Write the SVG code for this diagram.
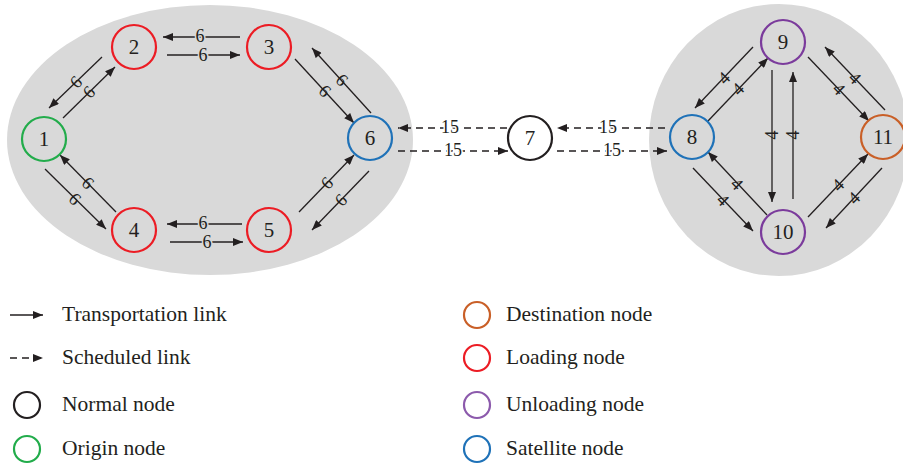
<svg xmlns="http://www.w3.org/2000/svg" width="903" height="466" viewBox="0 0 903 466">
<style>
.bg{fill:#d9d9d9;stroke:none}
.node{fill:none;stroke-width:2.2}
.nt{font-family:"Liberation Serif",serif;font-size:21px;fill:#231f20;text-anchor:middle;dominant-baseline:central}
.el{fill:none;stroke:#231f20;stroke-width:1.3;marker-end:url(#ah)}
.dl{fill:none;stroke:#231f20;stroke-width:1.3;stroke-dasharray:7 5;marker-end:url(#ah)}
.lb{font-family:"Liberation Serif",serif;font-size:18px;fill:#231f20;text-anchor:middle;dominant-baseline:central}
.hg{paint-order:stroke;stroke:#d9d9d9;stroke-width:3}
.hw{paint-order:stroke;stroke:#ffffff;stroke-width:3}
.lg{font-family:"Liberation Serif",serif;font-size:21.5px;fill:#231f20;dominant-baseline:central}
.green{stroke:#22ac4b}.red{stroke:#ec1c24}.blue{stroke:#1f72b8}.black{stroke:#231f20}.purple{stroke:#7b3b9c}.orange{stroke:#c95f27}
</style>
<defs>
<marker id="ah" viewBox="0 0 10 8" refX="10" refY="4" markerUnits="userSpaceOnUse" markerWidth="11" markerHeight="8" orient="auto">
<path d="M0,0 L10,4 L0,8 z" fill="#231f20"/>
</marker>
</defs>
<ellipse class="bg" cx="210" cy="140" rx="203" ry="135"/>
<ellipse class="bg" cx="779" cy="140" rx="130" ry="136"/>

<g id="connectors">
<line class="el" x1="240" y1="37" x2="163" y2="37"/>
<line class="el" x1="167" y1="55" x2="240" y2="55"/>
<line class="el" x1="242" y1="224" x2="167" y2="224"/>
<line class="el" x1="170" y1="242" x2="243" y2="242"/>
<line class="el" x1="63" y1="118" x2="115" y2="67"/>
<line class="el" x1="102" y1="57" x2="49" y2="108"/>
<line class="el" x1="295" y1="59" x2="354" y2="123"/>
<line class="el" x1="371" y1="113" x2="312" y2="48"/>
<line class="el" x1="369" y1="171" x2="312" y2="230"/>
<line class="el" x1="299" y1="212" x2="354" y2="155"/>
<line class="el" x1="45" y1="169" x2="106" y2="229"/>
<line class="el" x1="116" y1="212" x2="60" y2="155"/>
<line class="dl" x1="507" y1="128" x2="398" y2="128"/>
<line class="dl" x1="398" y1="151" x2="508" y2="151"/>
<line class="dl" x1="665" y1="128" x2="557" y2="128"/>
<line class="dl" x1="557" y1="151" x2="667" y2="151"/>
<line class="el" x1="753" y1="47" x2="695" y2="108"/>
<line class="el" x1="708" y1="121" x2="768" y2="58"/>
<line class="el" x1="772" y1="70" x2="772" y2="202"/>
<line class="el" x1="793" y1="199" x2="793" y2="72"/>
<line class="el" x1="808" y1="57" x2="869" y2="121"/>
<line class="el" x1="885" y1="110" x2="825" y2="47"/>
<line class="el" x1="693" y1="168" x2="753" y2="231"/>
<line class="el" x1="767" y1="215" x2="708" y2="152"/>
<line class="el" x1="808" y1="217" x2="868" y2="154"/>
<line class="el" x1="882" y1="168" x2="826" y2="228"/>
<text class="lb hg" x="200" y="36">6</text>
<text class="lb hg" x="203" y="55">6</text>
<text class="lb hg" x="203" y="223">6</text>
<text class="lb hg" x="207" y="242">6</text>
<text class="lb" transform="translate(89,92) rotate(-45)">6</text>
<text class="lb" transform="translate(76,82) rotate(-45)">6</text>
<text class="lb" transform="translate(325,91) rotate(45)">6</text>
<text class="lb" transform="translate(342,80) rotate(45)">6</text>
<text class="lb" transform="translate(341,200) rotate(-45)">6</text>
<text class="lb" transform="translate(327,183) rotate(-45)">6</text>
<text class="lb" transform="translate(75,199) rotate(45)">6</text>
<text class="lb" transform="translate(88,183) rotate(45)">6</text>
<text class="lb hw" x="450" y="127">15</text>
<text class="lb hw" x="453" y="150">15</text>
<text class="lb hw" x="608" y="127">15</text>
<text class="lb hw" x="612" y="150">15</text>
<text class="lb" transform="translate(724,78) rotate(-45)">4</text>
<text class="lb" transform="translate(738,89) rotate(-45)">4</text>
<text class="lb" transform="translate(772,135) rotate(-90)">4</text>
<text class="lb" transform="translate(793,135) rotate(-90)">4</text>
<text class="lb" transform="translate(839,89) rotate(45)">4</text>
<text class="lb" transform="translate(855,78) rotate(45)">4</text>
<text class="lb" transform="translate(723,200) rotate(45)">4</text>
<text class="lb" transform="translate(737,184) rotate(45)">4</text>
<text class="lb" transform="translate(838,185) rotate(-45)">4</text>
<text class="lb" transform="translate(854,198) rotate(-45)">4</text>
</g>

<g id="n1"><circle class="node green" cx="44" cy="139" r="22"/><text class="nt" x="44" y="139">1</text></g>
<g id="n2"><circle class="node red" cx="134" cy="47" r="22"/><text class="nt" x="134" y="47">2</text></g>
<g id="n3"><circle class="node red" cx="269" cy="47" r="22"/><text class="nt" x="269" y="47">3</text></g>
<g id="n4"><circle class="node red" cx="134" cy="230" r="22"/><text class="nt" x="134" y="230">4</text></g>
<g id="n5"><circle class="node red" cx="269" cy="230" r="22"/><text class="nt" x="269" y="230">5</text></g>
<g id="n6"><circle class="node blue" cx="370" cy="138" r="22"/><text class="nt" x="370" y="138">6</text></g>
<g id="n7"><circle class="node black" cx="530" cy="138" r="22"/><text class="nt" x="530" y="138">7</text></g>
<g id="n8"><circle class="node blue" cx="692" cy="137" r="22"/><text class="nt" x="692" y="137">8</text></g>
<g id="n9"><circle class="node purple" cx="783" cy="42" r="22"/><text class="nt" x="783" y="42">9</text></g>
<g id="n10"><circle class="node purple" cx="783" cy="232" r="22"/><text class="nt" x="783" y="232">10</text></g>
<g id="n11"><circle class="node orange" cx="883" cy="137" r="22"/><text class="nt" x="883" y="137">11</text></g>

<g id="legend">
<line class="el" x1="10" y1="315" x2="43" y2="315"/>
<text class="lg" x="62" y="314">Transportation link</text>
<line class="dl" x1="10" y1="358" x2="43" y2="358" stroke-dasharray="6 5"/>
<text class="lg" x="62" y="357">Scheduled link</text>
<circle class="node black" cx="27" cy="405" r="13"/>
<text class="lg" x="62" y="404">Normal node</text>
<circle class="node green" cx="27" cy="449" r="13"/>
<text class="lg" x="62" y="448">Origin node</text>
<circle class="node orange" cx="477" cy="315" r="13"/>
<text class="lg" x="506" y="314">Destination node</text>
<circle class="node red" cx="477" cy="358" r="13"/>
<text class="lg" x="506" y="357">Loading node</text>
<circle class="node" cx="477" cy="405" r="13" stroke="#8c5aac"/>
<text class="lg" x="506" y="404">Unloading node</text>
<circle class="node blue" cx="477" cy="449" r="13"/>
<text class="lg" x="506" y="448">Satellite node</text>
</g>
</svg>
